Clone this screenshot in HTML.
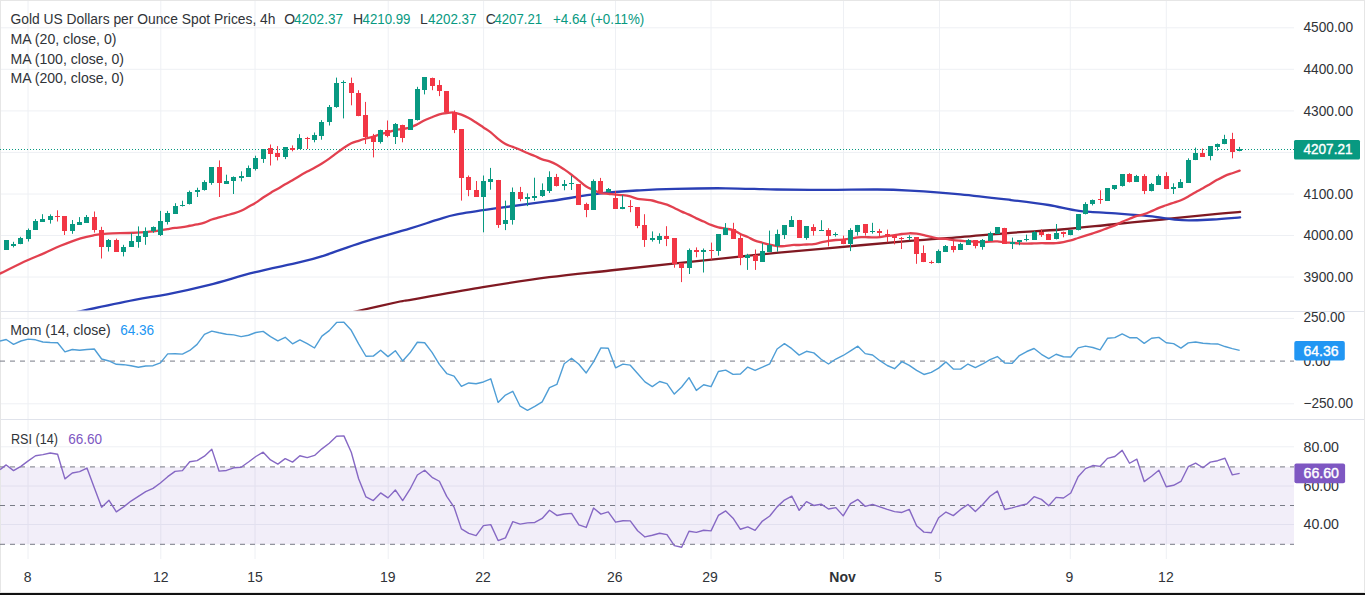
<!DOCTYPE html><html><head><meta charset="utf-8"><title>Gold 4h chart</title><style>
html,body{margin:0;padding:0;background:#fff;width:1365px;height:595px;overflow:hidden}
svg{display:block}
text{font-family:"Liberation Sans", sans-serif}
</style></head><body>
<svg width="1365" height="595" viewBox="0 0 1365 595">
<rect x="0" y="0" width="1365" height="595" fill="#ffffff"/>
<line x1="28.0" y1="0" x2="28.0" y2="559.0" stroke="#EEF0F4" stroke-width="1"/>
<line x1="160.8" y1="0" x2="160.8" y2="559.0" stroke="#EEF0F4" stroke-width="1"/>
<line x1="255.0" y1="0" x2="255.0" y2="559.0" stroke="#EEF0F4" stroke-width="1"/>
<line x1="388.2" y1="0" x2="388.2" y2="559.0" stroke="#EEF0F4" stroke-width="1"/>
<line x1="483.6" y1="0" x2="483.6" y2="559.0" stroke="#EEF0F4" stroke-width="1"/>
<line x1="615.5" y1="0" x2="615.5" y2="559.0" stroke="#EEF0F4" stroke-width="1"/>
<line x1="711.0" y1="0" x2="711.0" y2="559.0" stroke="#EEF0F4" stroke-width="1"/>
<line x1="843.5" y1="0" x2="843.5" y2="559.0" stroke="#EEF0F4" stroke-width="1"/>
<line x1="939.5" y1="0" x2="939.5" y2="559.0" stroke="#EEF0F4" stroke-width="1"/>
<line x1="1070.3" y1="0" x2="1070.3" y2="559.0" stroke="#EEF0F4" stroke-width="1"/>
<line x1="1166.3" y1="0" x2="1166.3" y2="559.0" stroke="#EEF0F4" stroke-width="1"/>
<line x1="0" y1="27.8" x2="1294" y2="27.8" stroke="#EEF0F4" stroke-width="1"/>
<line x1="0" y1="69.3" x2="1294" y2="69.3" stroke="#EEF0F4" stroke-width="1"/>
<line x1="0" y1="110.9" x2="1294" y2="110.9" stroke="#EEF0F4" stroke-width="1"/>
<line x1="0" y1="152.4" x2="1294" y2="152.4" stroke="#EEF0F4" stroke-width="1"/>
<line x1="0" y1="194.0" x2="1294" y2="194.0" stroke="#EEF0F4" stroke-width="1"/>
<line x1="0" y1="235.5" x2="1294" y2="235.5" stroke="#EEF0F4" stroke-width="1"/>
<line x1="0" y1="277.0" x2="1294" y2="277.0" stroke="#EEF0F4" stroke-width="1"/>
<line x1="0" y1="318.4" x2="1294" y2="318.4" stroke="#EEF0F4" stroke-width="1"/>
<line x1="0" y1="403.8" x2="1294" y2="403.8" stroke="#EEF0F4" stroke-width="1"/>
<line x1="0" y1="446.8" x2="1294" y2="446.8" stroke="#EEF0F4" stroke-width="1"/>
<line x1="0" y1="486.0" x2="1294" y2="486.0" stroke="#EEF0F4" stroke-width="1"/>
<line x1="0" y1="524.5" x2="1294" y2="524.5" stroke="#EEF0F4" stroke-width="1"/>
<rect x="0" y="466.9" width="1294" height="77.4" fill="#7E57C2" fill-opacity="0.1"/>
<line x1="0" y1="311.5" x2="1365" y2="311.5" stroke="#E0E3EB" stroke-width="1"/>
<line x1="0" y1="419.5" x2="1365" y2="419.5" stroke="#E0E3EB" stroke-width="1"/>
<rect x="0.5" y="0.5" width="1364" height="592" fill="none" stroke="#E6E6E6" stroke-width="1"/>
<rect x="0" y="593" width="1365" height="2" fill="#111"/>
<defs><clipPath id="cm"><rect x="0" y="0" width="1294" height="310.5"/></clipPath>
<clipPath id="cmo"><rect x="0" y="311.5" width="1294" height="108.0"/></clipPath>
<clipPath id="cr"><rect x="0" y="419.5" width="1294" height="139.5"/></clipPath></defs>
<line x1="0" y1="149.5" x2="1294" y2="149.5" stroke="#089981" stroke-width="1" stroke-dasharray="1,2"/>
<g clip-path="url(#cm)" fill="none" stroke-linejoin="round" stroke-linecap="round">
<path d="M340.00,315.50 C342.93,314.75 347.60,313.33 357.60,311.00 C367.60,308.67 390.93,303.40 400.00,301.50 C409.07,299.60 398.17,302.00 412.00,299.60 C425.83,297.20 460.15,290.83 483.00,287.10 C505.85,283.37 527.93,279.97 549.10,277.20 C570.27,274.43 588.92,272.80 610.00,270.50 C631.08,268.20 652.07,265.92 675.60,263.40 C699.13,260.88 725.98,257.92 751.20,255.40 C776.42,252.88 800.43,250.72 826.90,248.30 C853.37,245.88 887.75,242.77 910.00,240.90 C932.25,239.03 943.60,238.45 960.40,237.10 C977.20,235.75 994.00,234.07 1010.80,232.80 C1027.60,231.53 1044.40,230.88 1061.20,229.50 C1078.00,228.12 1094.80,226.17 1111.60,224.50 C1128.40,222.83 1145.20,221.18 1162.00,219.50 C1178.80,217.82 1199.38,215.67 1212.40,214.40 C1225.42,213.13 1235.48,212.32 1240.10,211.90" stroke="#801922" stroke-width="2.3"/>
<path d="M60.00,316.00 C63.53,315.17 68.75,313.70 81.20,311.00 C93.65,308.30 120.38,302.58 134.70,299.80 C149.02,297.02 154.65,296.80 167.10,294.30 C179.55,291.80 194.87,288.45 209.40,284.80 C223.93,281.15 239.20,276.17 254.30,272.40 C269.40,268.63 288.23,265.05 300.00,262.20 C311.77,259.35 314.52,258.62 324.90,255.30 C335.28,251.98 348.18,246.75 362.30,242.30 C376.42,237.85 397.15,232.33 409.60,228.60 C422.05,224.87 429.12,222.27 437.00,219.90 C444.88,217.53 446.52,216.40 456.90,214.40 C467.28,212.40 483.93,210.10 499.30,207.90 C514.67,205.70 532.50,203.57 549.10,201.20 C565.70,198.83 583.75,195.52 598.90,193.70 C614.05,191.88 627.22,191.12 640.00,190.30 C652.78,189.48 661.27,189.13 675.60,188.80 C689.93,188.47 709.18,188.18 726.00,188.30 C742.82,188.42 759.68,189.23 776.50,189.50 C793.32,189.77 810.10,189.90 826.90,189.90 C843.70,189.90 863.45,189.38 877.30,189.50 C891.15,189.62 896.15,189.80 910.00,190.60 C923.85,191.40 943.60,192.73 960.40,194.30 C977.20,195.87 996.10,198.22 1010.80,200.00 C1025.50,201.78 1037.25,203.20 1048.60,205.00 C1059.95,206.80 1068.40,209.43 1078.90,210.80 C1089.40,212.17 1099.85,212.30 1111.60,213.20 C1123.35,214.10 1137.63,215.03 1149.40,216.20 C1161.17,217.37 1171.70,219.65 1182.20,220.20 C1192.70,220.75 1202.75,219.97 1212.40,219.50 C1222.05,219.03 1235.48,217.75 1240.10,217.40" stroke="#2A3FB5" stroke-width="2.3"/>
<path d="M0.00,273.40 C0.33,273.27 -2.48,274.75 2.00,272.60 C6.48,270.45 19.83,263.75 26.90,260.50 C33.97,257.25 38.80,255.57 44.40,253.10 C50.00,250.63 54.47,248.17 60.50,245.70 C66.53,243.23 75.00,240.05 80.60,238.30 C86.20,236.55 89.62,235.98 94.10,235.20 C98.58,234.42 101.68,233.97 107.50,233.60 C113.32,233.23 122.63,233.25 129.00,233.00 C135.37,232.75 141.69,232.37 145.70,232.11 C149.70,231.85 150.59,231.76 153.04,231.47 C155.49,231.17 157.93,230.73 160.38,230.33 C162.83,229.94 165.28,229.51 167.72,229.11 C170.17,228.70 172.62,228.26 175.07,227.93 C177.51,227.59 179.96,227.49 182.41,227.12 C184.86,226.76 187.30,226.20 189.75,225.75 C192.20,225.30 194.64,224.94 197.09,224.43 C199.54,223.91 201.99,223.50 204.43,222.68 C206.88,221.86 209.33,220.37 211.78,219.49 C214.22,218.62 216.67,218.11 219.12,217.43 C221.57,216.75 224.01,216.07 226.46,215.40 C228.91,214.73 231.35,214.17 233.80,213.39 C236.25,212.61 238.70,211.80 241.14,210.69 C243.59,209.59 246.04,208.10 248.49,206.76 C250.93,205.41 253.38,204.19 255.83,202.65 C258.28,201.11 260.72,199.15 263.17,197.53 C265.62,195.90 268.06,194.36 270.51,192.89 C272.96,191.42 275.41,190.12 277.85,188.68 C280.30,187.24 282.75,185.66 285.20,184.25 C287.64,182.83 290.09,181.60 292.54,180.18 C294.99,178.75 297.43,177.13 299.88,175.70 C302.33,174.28 304.77,172.94 307.22,171.60 C309.67,170.27 312.12,169.05 314.56,167.69 C317.01,166.34 319.46,165.00 321.91,163.48 C324.35,161.96 326.80,160.31 329.25,158.59 C331.70,156.87 334.14,154.97 336.59,153.17 C339.04,151.36 341.48,149.41 343.93,147.77 C346.38,146.13 348.83,144.50 351.27,143.33 C353.72,142.17 356.17,141.59 358.62,140.79 C361.06,139.99 363.51,139.23 365.96,138.52 C368.41,137.81 370.85,137.27 373.30,136.55 C375.75,135.83 378.19,134.92 380.64,134.20 C383.09,133.48 385.54,132.90 387.98,132.20 C390.43,131.50 392.88,130.54 395.33,130.01 C397.77,129.48 400.22,129.41 402.67,129.00 C405.12,128.58 407.56,128.29 410.01,127.50 C412.46,126.71 414.90,125.47 417.35,124.27 C419.80,123.07 422.25,121.46 424.69,120.29 C427.14,119.12 429.59,118.22 432.04,117.22 C434.48,116.23 436.93,115.00 439.38,114.30 C441.83,113.60 444.27,113.30 446.72,113.00 C449.17,112.71 451.61,112.25 454.06,112.53 C456.51,112.81 458.96,113.73 461.40,114.66 C463.85,115.58 466.30,116.76 468.75,118.08 C471.19,119.40 473.64,121.00 476.09,122.56 C478.54,124.12 480.98,125.83 483.43,127.45 C485.88,129.08 488.32,130.43 490.77,132.33 C493.22,134.24 495.67,136.94 498.11,138.91 C500.56,140.87 503.01,142.78 505.46,144.11 C507.90,145.44 510.35,145.94 512.80,146.88 C515.25,147.81 517.69,148.70 520.14,149.73 C522.59,150.77 525.03,152.01 527.48,153.06 C529.93,154.12 532.38,155.01 534.82,156.06 C537.27,157.10 539.72,158.47 542.17,159.34 C544.61,160.22 547.06,160.41 549.51,161.30 C551.96,162.18 554.40,163.31 556.85,164.67 C559.30,166.02 561.74,167.73 564.19,169.41 C566.64,171.08 569.09,172.85 571.53,174.72 C573.98,176.59 576.43,178.67 578.88,180.65 C581.32,182.63 583.77,185.03 586.22,186.59 C588.67,188.16 591.11,188.95 593.56,190.05 C596.01,191.15 598.45,192.57 600.90,193.19 C603.35,193.81 605.80,193.51 608.24,193.75 C610.69,194.00 613.14,194.44 615.59,194.68 C618.03,194.91 620.48,194.86 622.93,195.16 C625.38,195.46 627.82,195.84 630.27,196.45 C632.72,197.06 635.16,198.28 637.61,198.80 C640.06,199.32 642.51,199.31 644.95,199.59 C647.40,199.88 649.85,199.99 652.30,200.50 C654.74,201.02 657.19,201.99 659.64,202.69 C662.09,203.39 664.53,203.79 666.98,204.68 C669.43,205.57 671.87,206.87 674.32,208.02 C676.77,209.17 679.22,210.50 681.66,211.59 C684.11,212.69 686.56,213.47 689.01,214.60 C691.45,215.73 693.90,217.23 696.35,218.39 C698.80,219.56 701.24,220.49 703.69,221.57 C706.14,222.66 708.58,223.94 711.03,224.93 C713.48,225.91 715.93,226.84 718.37,227.46 C720.82,228.08 723.27,228.21 725.72,228.66 C728.16,229.10 730.61,229.23 733.06,230.11 C735.51,230.99 737.95,232.78 740.40,233.94 C742.85,235.10 745.29,235.95 747.74,237.07 C750.19,238.19 752.64,239.72 755.08,240.68 C757.53,241.64 759.98,242.12 762.43,242.80 C764.87,243.48 767.32,244.19 769.77,244.74 C772.22,245.29 774.66,245.90 777.11,246.12 C779.56,246.34 782.00,246.24 784.45,246.06 C786.90,245.88 789.35,245.21 791.79,245.03 C794.24,244.85 796.69,245.09 799.14,245.00 C801.58,244.91 804.03,244.65 806.48,244.50 C808.93,244.35 811.37,244.46 813.82,244.12 C816.27,243.77 818.71,242.96 821.16,242.41 C823.61,241.86 826.06,241.21 828.50,240.81 C830.95,240.40 833.40,240.20 835.85,240.00 C838.29,239.80 840.74,239.82 843.19,239.58 C845.64,239.34 848.08,238.97 850.53,238.58 C852.98,238.20 855.42,237.50 857.87,237.27 C860.32,237.04 862.77,237.20 865.21,237.21 C867.66,237.22 870.11,237.34 872.56,237.31 C875.00,237.28 877.45,237.26 879.90,237.03 C882.35,236.80 884.79,236.26 887.24,235.94 C889.69,235.62 892.13,235.42 894.58,235.10 C897.03,234.78 899.48,234.30 901.92,234.00 C904.37,233.70 906.82,233.33 909.27,233.28 C911.71,233.22 914.16,233.39 916.61,233.69 C919.06,234.00 921.50,234.54 923.95,235.08 C926.40,235.63 928.84,236.39 931.29,236.97 C933.74,237.54 936.19,238.20 938.63,238.53 C941.08,238.85 943.53,238.67 945.98,238.93 C948.42,239.19 950.87,239.80 953.32,240.11 C955.77,240.41 958.21,240.57 960.66,240.77 C963.11,240.96 965.55,241.11 968.00,241.28 C970.45,241.46 972.90,241.68 975.34,241.82 C977.79,241.97 980.24,242.18 982.69,242.14 C985.13,242.10 987.58,241.69 990.03,241.56 C992.48,241.44 994.92,241.29 997.37,241.42 C999.82,241.55 1002.26,242.13 1004.71,242.36 C1007.16,242.59 1009.61,242.67 1012.05,242.82 C1014.50,242.98 1016.95,243.18 1019.40,243.31 C1021.84,243.44 1024.29,243.57 1026.74,243.58 C1029.19,243.60 1031.63,243.46 1034.08,243.40 C1036.53,243.34 1038.97,243.24 1041.42,243.22 C1043.87,243.19 1046.32,243.27 1048.76,243.25 C1051.21,243.23 1053.66,243.27 1056.11,243.07 C1058.55,242.88 1061.00,242.51 1063.45,242.07 C1065.90,241.64 1068.34,241.14 1070.79,240.47 C1073.24,239.80 1075.68,238.83 1078.13,238.03 C1080.58,237.24 1083.03,236.46 1085.47,235.68 C1087.92,234.89 1090.37,234.15 1092.82,233.35 C1095.26,232.55 1097.71,231.75 1100.16,230.87 C1102.61,229.98 1105.05,228.98 1107.50,228.06 C1109.95,227.14 1112.39,226.38 1114.84,225.32 C1117.29,224.26 1119.74,222.80 1122.18,221.71 C1124.63,220.62 1127.08,219.76 1129.53,218.79 C1131.97,217.83 1134.42,216.72 1136.87,215.94 C1139.32,215.16 1141.76,214.94 1144.21,214.14 C1146.66,213.35 1149.10,212.23 1151.55,211.18 C1154.00,210.12 1156.45,208.82 1158.89,207.84 C1161.34,206.86 1163.79,206.14 1166.24,205.28 C1168.68,204.43 1171.13,203.56 1173.58,202.72 C1176.03,201.87 1178.47,201.26 1180.92,200.22 C1183.37,199.19 1185.81,197.83 1188.26,196.48 C1190.71,195.13 1193.16,193.49 1195.60,192.13 C1198.05,190.77 1200.50,189.67 1202.95,188.31 C1205.39,186.94 1207.84,185.38 1210.29,183.93 C1212.74,182.47 1215.18,180.95 1217.63,179.60 C1220.08,178.25 1222.52,176.89 1224.97,175.83 C1227.42,174.77 1229.87,174.07 1232.31,173.22 C1234.76,172.36 1238.43,171.12 1239.66,170.70" stroke="#E2404F" stroke-width="2.3"/>
</g>
<g clip-path="url(#cm)">
<rect x="6" y="240.3" width="1" height="9.4" fill="#089981"/>
<rect x="4" y="240" width="5" height="10" fill="#089981"/>
<rect x="13" y="241.8" width="1" height="5.6" fill="#089981"/>
<rect x="11" y="244" width="5" height="2" fill="#089981"/>
<rect x="20" y="236.8" width="1" height="7.4" fill="#089981"/>
<rect x="18" y="238" width="5" height="6" fill="#089981"/>
<rect x="28" y="228.5" width="1" height="13.0" fill="#089981"/>
<rect x="26" y="230" width="5" height="9" fill="#089981"/>
<rect x="35" y="219.1" width="1" height="10.9" fill="#089981"/>
<rect x="33" y="221" width="5" height="9" fill="#089981"/>
<rect x="42" y="214.2" width="1" height="7.6" fill="#089981"/>
<rect x="40" y="219" width="5" height="3" fill="#089981"/>
<rect x="50" y="214.4" width="1" height="9.2" fill="#089981"/>
<rect x="48" y="216" width="5" height="4" fill="#089981"/>
<rect x="57" y="210.3" width="1" height="11.2" fill="#F23645"/>
<rect x="55" y="216" width="5" height="1" fill="#F23645"/>
<rect x="64" y="216.2" width="1" height="18.8" fill="#F23645"/>
<rect x="62" y="216" width="5" height="15" fill="#F23645"/>
<rect x="72" y="220.0" width="1" height="13.8" fill="#089981"/>
<rect x="70" y="224" width="5" height="7" fill="#089981"/>
<rect x="79" y="217.1" width="1" height="7.5" fill="#089981"/>
<rect x="77" y="222" width="5" height="3" fill="#089981"/>
<rect x="86" y="215.0" width="1" height="7.6" fill="#089981"/>
<rect x="84" y="217" width="5" height="6" fill="#089981"/>
<rect x="94" y="211.5" width="1" height="21.1" fill="#F23645"/>
<rect x="92" y="217" width="5" height="13" fill="#F23645"/>
<rect x="101" y="226.8" width="1" height="31.7" fill="#F23645"/>
<rect x="99" y="230" width="5" height="17" fill="#F23645"/>
<rect x="108" y="239.0" width="1" height="12.5" fill="#089981"/>
<rect x="106" y="240" width="5" height="7" fill="#089981"/>
<rect x="116" y="238.6" width="1" height="12.9" fill="#F23645"/>
<rect x="114" y="240" width="5" height="12" fill="#F23645"/>
<rect x="123" y="244.8" width="1" height="11.6" fill="#089981"/>
<rect x="121" y="247" width="5" height="5" fill="#089981"/>
<rect x="131" y="233.2" width="1" height="13.5" fill="#089981"/>
<rect x="129" y="241" width="5" height="6" fill="#089981"/>
<rect x="138" y="226.4" width="1" height="21.3" fill="#089981"/>
<rect x="136" y="236" width="5" height="6" fill="#089981"/>
<rect x="145" y="227.4" width="1" height="17.4" fill="#089981"/>
<rect x="143" y="231" width="5" height="6" fill="#089981"/>
<rect x="153" y="226.4" width="1" height="6.4" fill="#089981"/>
<rect x="151" y="227" width="5" height="4" fill="#089981"/>
<rect x="160" y="210.9" width="1" height="25.1" fill="#089981"/>
<rect x="158" y="221" width="5" height="14" fill="#089981"/>
<rect x="167" y="210.9" width="1" height="13.6" fill="#089981"/>
<rect x="165" y="213" width="5" height="9" fill="#089981"/>
<rect x="175" y="203.2" width="1" height="10.6" fill="#089981"/>
<rect x="173" y="206" width="5" height="8" fill="#089981"/>
<rect x="182" y="200.7" width="1" height="5.8" fill="#089981"/>
<rect x="180" y="205" width="5" height="1" fill="#089981"/>
<rect x="189" y="190.6" width="1" height="13.9" fill="#089981"/>
<rect x="187" y="192" width="5" height="12" fill="#089981"/>
<rect x="197" y="187.7" width="1" height="9.3" fill="#089981"/>
<rect x="195" y="190" width="5" height="2" fill="#089981"/>
<rect x="204" y="180.3" width="1" height="10.3" fill="#089981"/>
<rect x="202" y="182" width="5" height="8" fill="#089981"/>
<rect x="211" y="167.1" width="1" height="17.7" fill="#089981"/>
<rect x="209" y="167" width="5" height="16" fill="#089981"/>
<rect x="219" y="160.4" width="1" height="36.6" fill="#F23645"/>
<rect x="217" y="167" width="5" height="16" fill="#F23645"/>
<rect x="226" y="174.7" width="1" height="8.9" fill="#089981"/>
<rect x="224" y="181" width="5" height="3" fill="#089981"/>
<rect x="233" y="176.4" width="1" height="17.6" fill="#089981"/>
<rect x="231" y="177" width="5" height="4" fill="#089981"/>
<rect x="241" y="171.3" width="1" height="10.1" fill="#089981"/>
<rect x="239" y="176" width="5" height="2" fill="#089981"/>
<rect x="248" y="165.5" width="1" height="11.4" fill="#089981"/>
<rect x="246" y="168" width="5" height="9" fill="#089981"/>
<rect x="255" y="155.7" width="1" height="14.8" fill="#089981"/>
<rect x="253" y="158" width="5" height="11" fill="#089981"/>
<rect x="263" y="149.0" width="1" height="13.9" fill="#089981"/>
<rect x="261" y="149" width="5" height="10" fill="#089981"/>
<rect x="270" y="144.5" width="1" height="21.0" fill="#F23645"/>
<rect x="268" y="148" width="5" height="6" fill="#F23645"/>
<rect x="277" y="146.1" width="1" height="14.3" fill="#F23645"/>
<rect x="275" y="153" width="5" height="4" fill="#F23645"/>
<rect x="285" y="147.3" width="1" height="11.8" fill="#089981"/>
<rect x="283" y="147" width="5" height="10" fill="#089981"/>
<rect x="292" y="145.4" width="1" height="5.9" fill="#F23645"/>
<rect x="290" y="148" width="5" height="2" fill="#F23645"/>
<rect x="299" y="134.2" width="1" height="14.8" fill="#089981"/>
<rect x="297" y="138" width="5" height="11" fill="#089981"/>
<rect x="307" y="136.9" width="1" height="12.1" fill="#F23645"/>
<rect x="305" y="138" width="5" height="1" fill="#F23645"/>
<rect x="314" y="132.5" width="1" height="9.8" fill="#089981"/>
<rect x="312" y="135" width="5" height="5" fill="#089981"/>
<rect x="321" y="120.1" width="1" height="19.6" fill="#089981"/>
<rect x="319" y="122" width="5" height="14" fill="#089981"/>
<rect x="329" y="105.0" width="1" height="20.5" fill="#089981"/>
<rect x="327" y="107" width="5" height="15" fill="#089981"/>
<rect x="336" y="77.6" width="1" height="30.2" fill="#089981"/>
<rect x="334" y="83" width="5" height="24" fill="#089981"/>
<rect x="343" y="80.4" width="1" height="38.0" fill="#089981"/>
<rect x="341" y="82" width="5" height="1" fill="#089981"/>
<rect x="351" y="77.6" width="1" height="27.7" fill="#F23645"/>
<rect x="349" y="83" width="5" height="10" fill="#F23645"/>
<rect x="358" y="90.2" width="1" height="26.0" fill="#F23645"/>
<rect x="356" y="93" width="5" height="23" fill="#F23645"/>
<rect x="365" y="101.9" width="1" height="42.1" fill="#F23645"/>
<rect x="363" y="115" width="5" height="22" fill="#F23645"/>
<rect x="373" y="133.9" width="1" height="23.5" fill="#F23645"/>
<rect x="371" y="136" width="5" height="6" fill="#F23645"/>
<rect x="380" y="129.7" width="1" height="13.9" fill="#089981"/>
<rect x="378" y="130" width="5" height="12" fill="#089981"/>
<rect x="387" y="120.5" width="1" height="16.8" fill="#F23645"/>
<rect x="385" y="130" width="5" height="6" fill="#F23645"/>
<rect x="395" y="123.0" width="1" height="21.0" fill="#089981"/>
<rect x="393" y="124" width="5" height="13" fill="#089981"/>
<rect x="402" y="124.7" width="1" height="17.6" fill="#F23645"/>
<rect x="400" y="125" width="5" height="13" fill="#F23645"/>
<rect x="410" y="119.1" width="1" height="10.6" fill="#089981"/>
<rect x="408" y="119" width="5" height="11" fill="#089981"/>
<rect x="417" y="86.8" width="1" height="33.7" fill="#089981"/>
<rect x="415" y="89" width="5" height="31" fill="#089981"/>
<rect x="424" y="77.1" width="1" height="17.3" fill="#089981"/>
<rect x="422" y="77" width="5" height="13" fill="#089981"/>
<rect x="432" y="77.6" width="1" height="12.6" fill="#F23645"/>
<rect x="430" y="78" width="5" height="8" fill="#F23645"/>
<rect x="439" y="80.1" width="1" height="16.0" fill="#F23645"/>
<rect x="437" y="85" width="5" height="6" fill="#F23645"/>
<rect x="446" y="91.0" width="1" height="21.1" fill="#F23645"/>
<rect x="444" y="91" width="5" height="21" fill="#F23645"/>
<rect x="454" y="110.4" width="1" height="22.7" fill="#F23645"/>
<rect x="452" y="112" width="5" height="18" fill="#F23645"/>
<rect x="461" y="129.2" width="1" height="71.4" fill="#F23645"/>
<rect x="459" y="129" width="5" height="49" fill="#F23645"/>
<rect x="468" y="175.5" width="1" height="20.7" fill="#F23645"/>
<rect x="466" y="177" width="5" height="13" fill="#F23645"/>
<rect x="476" y="181.0" width="1" height="15.9" fill="#F23645"/>
<rect x="474" y="190" width="5" height="7" fill="#F23645"/>
<rect x="483" y="175.5" width="1" height="56.8" fill="#089981"/>
<rect x="481" y="181" width="5" height="16" fill="#089981"/>
<rect x="490" y="167.9" width="1" height="21.8" fill="#089981"/>
<rect x="488" y="179" width="5" height="3" fill="#089981"/>
<rect x="498" y="179.9" width="1" height="48.0" fill="#F23645"/>
<rect x="496" y="180" width="5" height="45" fill="#F23645"/>
<rect x="505" y="200.6" width="1" height="29.5" fill="#089981"/>
<rect x="503" y="220" width="5" height="4" fill="#089981"/>
<rect x="512" y="187.5" width="1" height="37.1" fill="#089981"/>
<rect x="510" y="192" width="5" height="28" fill="#089981"/>
<rect x="520" y="186.9" width="1" height="14.4" fill="#F23645"/>
<rect x="518" y="192" width="5" height="7" fill="#F23645"/>
<rect x="527" y="193.4" width="1" height="12.7" fill="#089981"/>
<rect x="525" y="197" width="5" height="2" fill="#089981"/>
<rect x="534" y="177.7" width="1" height="22.9" fill="#089981"/>
<rect x="532" y="196" width="5" height="2" fill="#089981"/>
<rect x="542" y="183.4" width="1" height="13.5" fill="#089981"/>
<rect x="540" y="190" width="5" height="6" fill="#089981"/>
<rect x="549" y="171.3" width="1" height="21.7" fill="#089981"/>
<rect x="547" y="177" width="5" height="14" fill="#089981"/>
<rect x="556" y="173.9" width="1" height="12.6" fill="#F23645"/>
<rect x="554" y="177" width="5" height="9" fill="#F23645"/>
<rect x="564" y="180.0" width="1" height="10.3" fill="#089981"/>
<rect x="562" y="184" width="5" height="2" fill="#089981"/>
<rect x="571" y="175.9" width="1" height="14.1" fill="#089981"/>
<rect x="569" y="183" width="5" height="1" fill="#089981"/>
<rect x="578" y="184.2" width="1" height="20.4" fill="#F23645"/>
<rect x="576" y="184" width="5" height="21" fill="#F23645"/>
<rect x="586" y="202.7" width="1" height="14.5" fill="#F23645"/>
<rect x="584" y="204" width="5" height="6" fill="#F23645"/>
<rect x="593" y="179.4" width="1" height="30.5" fill="#089981"/>
<rect x="591" y="181" width="5" height="29" fill="#089981"/>
<rect x="600" y="177.9" width="1" height="14.6" fill="#F23645"/>
<rect x="598" y="181" width="5" height="11" fill="#F23645"/>
<rect x="608" y="188.0" width="1" height="4.5" fill="#089981"/>
<rect x="606" y="189" width="5" height="3" fill="#089981"/>
<rect x="615" y="191.0" width="1" height="17.7" fill="#F23645"/>
<rect x="613" y="198" width="5" height="11" fill="#F23645"/>
<rect x="622" y="195.1" width="1" height="14.1" fill="#089981"/>
<rect x="620" y="207" width="5" height="2" fill="#089981"/>
<rect x="630" y="200.1" width="1" height="12.1" fill="#F23645"/>
<rect x="628" y="206" width="5" height="1" fill="#F23645"/>
<rect x="637" y="207.0" width="1" height="21.2" fill="#F23645"/>
<rect x="635" y="207" width="5" height="19" fill="#F23645"/>
<rect x="644" y="214.2" width="1" height="32.7" fill="#F23645"/>
<rect x="642" y="225" width="5" height="15" fill="#F23645"/>
<rect x="652" y="231.4" width="1" height="10.2" fill="#089981"/>
<rect x="650" y="238" width="5" height="2" fill="#089981"/>
<rect x="659" y="233.3" width="1" height="10.4" fill="#089981"/>
<rect x="657" y="236" width="5" height="4" fill="#089981"/>
<rect x="666" y="226.2" width="1" height="19.9" fill="#F23645"/>
<rect x="664" y="236" width="5" height="3" fill="#F23645"/>
<rect x="674" y="238.1" width="1" height="29.6" fill="#F23645"/>
<rect x="672" y="238" width="5" height="26" fill="#F23645"/>
<rect x="681" y="263.4" width="1" height="18.7" fill="#F23645"/>
<rect x="679" y="263" width="5" height="5" fill="#F23645"/>
<rect x="689" y="248.5" width="1" height="25.5" fill="#089981"/>
<rect x="687" y="250" width="5" height="18" fill="#089981"/>
<rect x="696" y="247.4" width="1" height="9.9" fill="#F23645"/>
<rect x="694" y="250" width="5" height="2" fill="#F23645"/>
<rect x="703" y="248.5" width="1" height="24.0" fill="#089981"/>
<rect x="701" y="250" width="5" height="2" fill="#089981"/>
<rect x="711" y="242.6" width="1" height="17.1" fill="#F23645"/>
<rect x="709" y="250" width="5" height="1" fill="#F23645"/>
<rect x="718" y="234.1" width="1" height="21.6" fill="#089981"/>
<rect x="716" y="234" width="5" height="17" fill="#089981"/>
<rect x="725" y="223.1" width="1" height="11.6" fill="#089981"/>
<rect x="723" y="228" width="5" height="7" fill="#089981"/>
<rect x="733" y="222.8" width="1" height="16.2" fill="#F23645"/>
<rect x="731" y="229" width="5" height="10" fill="#F23645"/>
<rect x="740" y="234.3" width="1" height="30.9" fill="#F23645"/>
<rect x="738" y="238" width="5" height="20" fill="#F23645"/>
<rect x="747" y="253.8" width="1" height="16.1" fill="#089981"/>
<rect x="745" y="255" width="5" height="3" fill="#089981"/>
<rect x="755" y="249.5" width="1" height="20.4" fill="#F23645"/>
<rect x="753" y="255" width="5" height="6" fill="#F23645"/>
<rect x="762" y="243.0" width="1" height="18.6" fill="#089981"/>
<rect x="760" y="251" width="5" height="11" fill="#089981"/>
<rect x="769" y="230.6" width="1" height="21.1" fill="#089981"/>
<rect x="767" y="245" width="5" height="7" fill="#089981"/>
<rect x="777" y="229.6" width="1" height="22.1" fill="#089981"/>
<rect x="775" y="234" width="5" height="12" fill="#089981"/>
<rect x="784" y="225.3" width="1" height="13.7" fill="#089981"/>
<rect x="782" y="225" width="5" height="10" fill="#089981"/>
<rect x="791" y="216.1" width="1" height="10.8" fill="#089981"/>
<rect x="789" y="220" width="5" height="7" fill="#089981"/>
<rect x="799" y="219.9" width="1" height="18.0" fill="#F23645"/>
<rect x="797" y="220" width="5" height="18" fill="#F23645"/>
<rect x="806" y="226.2" width="1" height="13.5" fill="#089981"/>
<rect x="804" y="226" width="5" height="12" fill="#089981"/>
<rect x="813" y="224.2" width="1" height="11.4" fill="#F23645"/>
<rect x="811" y="227" width="5" height="4" fill="#F23645"/>
<rect x="821" y="220.2" width="1" height="10.7" fill="#089981"/>
<rect x="819" y="230" width="5" height="1" fill="#089981"/>
<rect x="828" y="228.2" width="1" height="18.2" fill="#F23645"/>
<rect x="826" y="230" width="5" height="6" fill="#F23645"/>
<rect x="835" y="232.3" width="1" height="4.3" fill="#089981"/>
<rect x="833" y="234" width="5" height="1" fill="#089981"/>
<rect x="843" y="235.6" width="1" height="8.5" fill="#F23645"/>
<rect x="841" y="239" width="5" height="5" fill="#F23645"/>
<rect x="850" y="228.2" width="1" height="22.9" fill="#089981"/>
<rect x="848" y="230" width="5" height="14" fill="#089981"/>
<rect x="857" y="224.9" width="1" height="10.7" fill="#089981"/>
<rect x="855" y="225" width="5" height="7" fill="#089981"/>
<rect x="865" y="224.2" width="1" height="11.4" fill="#F23645"/>
<rect x="863" y="224" width="5" height="9" fill="#F23645"/>
<rect x="872" y="222.8" width="1" height="10.8" fill="#089981"/>
<rect x="870" y="231" width="5" height="1" fill="#089981"/>
<rect x="879" y="228.9" width="1" height="7.4" fill="#F23645"/>
<rect x="877" y="231" width="5" height="2" fill="#F23645"/>
<rect x="887" y="229.6" width="1" height="12.7" fill="#F23645"/>
<rect x="885" y="234" width="5" height="2" fill="#F23645"/>
<rect x="894" y="235.2" width="1" height="9.2" fill="#F23645"/>
<rect x="892" y="235" width="5" height="3" fill="#F23645"/>
<rect x="901" y="237.0" width="1" height="12.0" fill="#F23645"/>
<rect x="899" y="238" width="5" height="1" fill="#F23645"/>
<rect x="909" y="235.2" width="1" height="5.1" fill="#089981"/>
<rect x="907" y="237" width="5" height="1" fill="#089981"/>
<rect x="916" y="237.0" width="1" height="26.8" fill="#F23645"/>
<rect x="914" y="237" width="5" height="17" fill="#F23645"/>
<rect x="923" y="245.4" width="1" height="16.7" fill="#F23645"/>
<rect x="921" y="253" width="5" height="9" fill="#F23645"/>
<rect x="931" y="260.5" width="1" height="3.3" fill="#F23645"/>
<rect x="929" y="262" width="5" height="1" fill="#F23645"/>
<rect x="938" y="249.5" width="1" height="13.7" fill="#089981"/>
<rect x="936" y="251" width="5" height="12" fill="#089981"/>
<rect x="945" y="245.0" width="1" height="6.7" fill="#089981"/>
<rect x="943" y="246" width="5" height="6" fill="#089981"/>
<rect x="953" y="241.0" width="1" height="11.4" fill="#F23645"/>
<rect x="951" y="246" width="5" height="4" fill="#F23645"/>
<rect x="960" y="242.7" width="1" height="7.3" fill="#089981"/>
<rect x="958" y="244" width="5" height="6" fill="#089981"/>
<rect x="968" y="239.0" width="1" height="6.0" fill="#089981"/>
<rect x="966" y="240" width="5" height="5" fill="#089981"/>
<rect x="975" y="240.3" width="1" height="8.1" fill="#F23645"/>
<rect x="973" y="240" width="5" height="6" fill="#F23645"/>
<rect x="982" y="239.0" width="1" height="10.7" fill="#089981"/>
<rect x="980" y="240" width="5" height="7" fill="#089981"/>
<rect x="990" y="231.6" width="1" height="9.2" fill="#089981"/>
<rect x="988" y="233" width="5" height="8" fill="#089981"/>
<rect x="997" y="227.3" width="1" height="6.7" fill="#089981"/>
<rect x="995" y="227" width="5" height="7" fill="#089981"/>
<rect x="1004" y="227.8" width="1" height="15.9" fill="#F23645"/>
<rect x="1002" y="228" width="5" height="16" fill="#F23645"/>
<rect x="1012" y="237.6" width="1" height="11.4" fill="#089981"/>
<rect x="1010" y="242" width="5" height="2" fill="#089981"/>
<rect x="1019" y="240.3" width="1" height="4.9" fill="#089981"/>
<rect x="1017" y="240" width="5" height="2" fill="#089981"/>
<rect x="1026" y="234.6" width="1" height="6.8" fill="#089981"/>
<rect x="1024" y="239" width="5" height="1" fill="#089981"/>
<rect x="1034" y="230.8" width="1" height="9.1" fill="#089981"/>
<rect x="1032" y="232" width="5" height="8" fill="#089981"/>
<rect x="1041" y="229.3" width="1" height="7.6" fill="#F23645"/>
<rect x="1039" y="232" width="5" height="3" fill="#F23645"/>
<rect x="1048" y="233.8" width="1" height="6.1" fill="#F23645"/>
<rect x="1046" y="234" width="5" height="6" fill="#F23645"/>
<rect x="1056" y="224.0" width="1" height="15.4" fill="#089981"/>
<rect x="1054" y="233" width="5" height="6" fill="#089981"/>
<rect x="1063" y="231.6" width="1" height="5.7" fill="#F23645"/>
<rect x="1061" y="232" width="5" height="2" fill="#F23645"/>
<rect x="1070" y="230.0" width="1" height="5.3" fill="#089981"/>
<rect x="1068" y="230" width="5" height="5" fill="#089981"/>
<rect x="1078" y="214.2" width="1" height="16.2" fill="#089981"/>
<rect x="1076" y="214" width="5" height="16" fill="#089981"/>
<rect x="1085" y="202.2" width="1" height="12.2" fill="#089981"/>
<rect x="1083" y="204" width="5" height="10" fill="#089981"/>
<rect x="1092" y="199.5" width="1" height="5.9" fill="#089981"/>
<rect x="1090" y="200" width="5" height="4" fill="#089981"/>
<rect x="1100" y="190.3" width="1" height="13.5" fill="#F23645"/>
<rect x="1098" y="199" width="5" height="1" fill="#F23645"/>
<rect x="1107" y="188.3" width="1" height="12.5" fill="#089981"/>
<rect x="1105" y="188" width="5" height="13" fill="#089981"/>
<rect x="1114" y="185.2" width="1" height="4.8" fill="#089981"/>
<rect x="1112" y="185" width="5" height="4" fill="#089981"/>
<rect x="1122" y="174.2" width="1" height="12.4" fill="#089981"/>
<rect x="1120" y="174" width="5" height="12" fill="#089981"/>
<rect x="1129" y="173.1" width="1" height="9.4" fill="#F23645"/>
<rect x="1127" y="174" width="5" height="8" fill="#F23645"/>
<rect x="1136" y="174.9" width="1" height="6.7" fill="#089981"/>
<rect x="1134" y="176" width="5" height="6" fill="#089981"/>
<rect x="1144" y="174.2" width="1" height="19.9" fill="#F23645"/>
<rect x="1142" y="176" width="5" height="15" fill="#F23645"/>
<rect x="1151" y="182.9" width="1" height="8.5" fill="#089981"/>
<rect x="1149" y="184" width="5" height="7" fill="#089981"/>
<rect x="1158" y="174.5" width="1" height="10.2" fill="#089981"/>
<rect x="1156" y="176" width="5" height="9" fill="#089981"/>
<rect x="1166" y="172.2" width="1" height="17.0" fill="#F23645"/>
<rect x="1164" y="176" width="5" height="13" fill="#F23645"/>
<rect x="1173" y="183.3" width="1" height="10.7" fill="#089981"/>
<rect x="1171" y="187" width="5" height="2" fill="#089981"/>
<rect x="1180" y="179.1" width="1" height="8.8" fill="#089981"/>
<rect x="1178" y="182" width="5" height="6" fill="#089981"/>
<rect x="1188" y="158.3" width="1" height="24.6" fill="#089981"/>
<rect x="1186" y="160" width="5" height="23" fill="#089981"/>
<rect x="1195" y="147.6" width="1" height="12.5" fill="#089981"/>
<rect x="1193" y="153" width="5" height="7" fill="#089981"/>
<rect x="1202" y="148.5" width="1" height="8.1" fill="#F23645"/>
<rect x="1200" y="153" width="5" height="4" fill="#F23645"/>
<rect x="1210" y="146.2" width="1" height="14.1" fill="#089981"/>
<rect x="1208" y="146" width="5" height="10" fill="#089981"/>
<rect x="1217" y="143.5" width="1" height="7.1" fill="#089981"/>
<rect x="1215" y="144" width="5" height="3" fill="#089981"/>
<rect x="1224" y="134.8" width="1" height="9.4" fill="#089981"/>
<rect x="1222" y="139" width="5" height="5" fill="#089981"/>
<rect x="1232" y="132.8" width="1" height="25.5" fill="#F23645"/>
<rect x="1230" y="139" width="5" height="13" fill="#F23645"/>
<rect x="1239" y="146.9" width="1" height="4.4" fill="#089981"/>
<rect x="1237" y="149" width="5" height="2" fill="#089981"/>
</g>
<line x1="0" y1="361.1" x2="1294" y2="361.1" stroke="#787B86" stroke-width="1" stroke-dasharray="5,5"/>
<g clip-path="url(#cmo)"><path d="M0.00,341.00 L6.20,339.50 L13.54,344.30 L20.88,341.00 L28.23,339.10 L35.57,339.80 L42.91,342.00 L50.25,342.50 L57.59,342.70 L64.94,351.90 L72.28,349.50 L79.62,350.20 L86.96,349.50 L94.30,349.00 L101.65,359.00 L108.99,360.98 L116.33,364.27 L123.67,364.68 L131.01,365.71 L138.36,367.23 L145.70,365.95 L153.04,365.71 L160.38,362.91 L167.72,353.90 L175.07,353.82 L182.41,354.15 L189.75,350.49 L197.09,344.41 L204.43,334.41 L211.78,331.12 L219.12,332.77 L226.46,334.25 L233.80,334.91 L241.14,336.59 L248.49,335.24 L255.83,332.52 L263.17,331.41 L270.51,336.67 L277.85,340.79 L285.20,337.33 L292.54,343.79 L299.88,339.84 L307.22,343.54 L314.56,347.98 L321.91,336.10 L329.25,330.63 L336.59,322.41 L343.93,322.20 L351.27,330.34 L358.62,343.95 L365.96,356.25 L373.30,356.12 L380.64,350.24 L387.98,356.62 L395.33,350.70 L402.67,360.94 L410.01,352.83 L417.35,342.27 L424.69,342.72 L432.04,352.34 L439.38,364.35 L446.72,373.56 L454.06,376.11 L461.40,386.39 L468.75,382.93 L476.09,383.72 L483.43,381.95 L490.77,378.78 L498.11,402.38 L505.46,395.11 L512.80,391.28 L520.14,406.21 L527.48,410.36 L534.82,406.41 L542.17,401.81 L549.51,387.62 L556.85,384.46 L564.19,363.77 L571.53,358.26 L578.88,364.27 L586.22,372.98 L593.56,361.84 L600.90,347.90 L608.24,348.23 L615.59,367.76 L622.93,364.18 L630.27,365.17 L637.61,373.52 L644.95,381.87 L652.30,386.55 L659.64,381.54 L666.98,383.59 L674.32,394.12 L681.66,387.05 L689.01,377.63 L696.35,390.42 L703.69,384.79 L711.03,386.68 L718.37,371.54 L725.72,370.11 L733.06,374.34 L740.40,374.01 L747.74,367.10 L755.08,370.43 L762.43,367.23 L769.77,363.77 L777.11,349.01 L784.45,343.67 L791.79,348.68 L799.14,355.10 L806.48,351.27 L813.82,352.88 L821.16,359.25 L828.50,364.02 L835.85,359.04 L843.19,355.47 L850.53,350.86 L857.87,346.17 L865.21,353.62 L872.56,355.01 L879.90,360.69 L887.24,365.50 L894.58,368.67 L901.92,361.63 L909.27,365.38 L916.61,370.39 L923.95,374.46 L931.29,372.33 L938.63,368.13 L945.98,361.88 L953.32,369.12 L960.66,369.12 L968.00,364.02 L975.34,367.60 L982.69,363.98 L990.03,359.70 L997.37,356.58 L1004.71,362.95 L1012.05,363.40 L1019.40,355.55 L1026.74,351.52 L1034.08,348.52 L1041.42,354.32 L1048.76,358.59 L1056.11,354.27 L1063.45,356.74 L1070.79,356.99 L1078.13,347.86 L1085.47,346.13 L1092.82,347.49 L1100.16,349.87 L1107.50,338.32 L1114.84,337.66 L1122.18,333.92 L1129.53,337.74 L1136.87,337.74 L1144.21,343.34 L1151.55,338.24 L1158.89,337.41 L1166.24,342.76 L1173.58,343.58 L1180.92,348.06 L1188.26,342.92 L1195.60,341.94 L1202.95,343.25 L1210.29,343.79 L1217.63,343.95 L1224.97,346.54 L1232.31,348.60 L1239.66,350.33" fill="none" stroke="#4F9ED6" stroke-width="1.4" stroke-linejoin="round"/></g>
<line x1="0" y1="466.9" x2="1294" y2="466.9" stroke="#787B86" stroke-width="1" stroke-dasharray="5,5"/>
<line x1="0" y1="505.5" x2="1294" y2="505.5" stroke="#787B86" stroke-width="1" stroke-dasharray="5,5"/>
<line x1="0" y1="544.3" x2="1294" y2="544.3" stroke="#787B86" stroke-width="1" stroke-dasharray="5,5"/>
<g clip-path="url(#cr)"><path d="M0.00,469.60 L6.20,464.93 L13.54,470.64 L20.88,466.36 L28.23,460.82 L35.57,455.76 L42.91,454.65 L50.25,453.01 L57.59,454.19 L64.94,478.85 L72.28,473.04 L79.62,471.62 L86.96,468.01 L94.30,487.84 L101.65,507.18 L108.99,500.31 L116.33,511.80 L123.67,506.83 L131.01,501.04 L138.36,496.33 L145.70,491.60 L153.04,488.41 L160.38,482.97 L167.72,476.68 L175.07,471.34 L182.41,470.62 L189.75,461.78 L197.09,460.65 L204.43,456.21 L211.78,449.13 L219.12,471.17 L226.46,470.43 L233.80,467.79 L241.14,467.28 L248.49,462.03 L255.83,456.50 L263.17,452.21 L270.51,459.94 L277.85,464.08 L285.20,458.64 L292.54,462.11 L299.88,455.72 L307.22,457.67 L314.56,455.44 L321.91,448.85 L329.25,443.19 L336.59,436.22 L343.93,435.90 L351.27,452.29 L358.62,478.73 L365.96,496.98 L373.30,500.60 L380.64,492.91 L387.98,497.86 L395.33,489.94 L402.67,500.62 L410.01,489.24 L417.35,475.04 L424.69,470.21 L432.04,477.31 L439.38,481.25 L446.72,496.40 L454.06,507.11 L461.40,528.90 L468.75,533.36 L476.09,535.65 L483.43,525.59 L490.77,524.60 L498.11,540.57 L505.46,537.85 L512.80,521.63 L520.14,524.14 L527.48,522.86 L534.82,522.43 L542.17,518.48 L549.51,510.28 L556.85,515.44 L564.19,513.96 L571.53,513.42 L578.88,524.83 L586.22,527.42 L593.56,508.06 L600.90,514.15 L608.24,511.93 L615.59,522.18 L622.93,520.72 L630.27,520.83 L637.61,530.77 L644.95,536.94 L652.30,535.27 L659.64,533.26 L666.98,534.62 L674.32,545.64 L681.66,547.20 L689.01,531.23 L696.35,532.41 L703.69,530.23 L711.03,530.85 L718.37,515.45 L725.72,510.90 L733.06,518.14 L740.40,529.28 L747.74,526.86 L755.08,530.37 L762.43,521.05 L769.77,516.04 L777.11,506.88 L784.45,500.07 L791.79,496.15 L799.14,510.32 L806.48,501.63 L813.82,505.44 L821.16,504.20 L828.50,509.04 L835.85,507.64 L843.19,515.86 L850.53,503.64 L857.87,499.40 L865.21,506.37 L872.56,504.36 L879.90,506.84 L887.24,509.38 L894.58,511.58 L901.92,512.48 L909.27,509.38 L916.61,525.71 L923.95,532.12 L931.29,532.72 L938.63,517.80 L945.98,512.01 L953.32,515.60 L960.66,509.42 L968.00,504.47 L975.34,511.46 L982.69,504.44 L990.03,496.30 L997.37,491.11 L1004.71,509.45 L1012.05,507.84 L1019.40,505.72 L1026.74,503.99 L1034.08,496.68 L1041.42,499.39 L1048.76,505.83 L1056.11,497.35 L1063.45,497.97 L1070.79,493.04 L1078.13,476.78 L1085.47,468.63 L1092.82,465.52 L1100.16,466.34 L1107.50,458.38 L1114.84,456.48 L1122.18,450.35 L1129.53,463.24 L1136.87,459.19 L1144.21,481.58 L1151.55,476.27 L1158.89,470.26 L1166.24,486.72 L1173.58,485.31 L1180.92,481.46 L1188.26,466.72 L1195.60,463.14 L1202.95,467.77 L1210.29,462.11 L1217.63,460.71 L1224.97,458.27 L1232.31,474.90 L1239.66,473.39" fill="none" stroke="#8668C4" stroke-width="1.4" stroke-linejoin="round"/></g>
<text x="1303.5" y="32.4" font-size="14" fill="#303338" textLength="49.5" lengthAdjust="spacingAndGlyphs">4500.00</text>
<text x="1303.5" y="73.9" font-size="14" fill="#303338" textLength="49.5" lengthAdjust="spacingAndGlyphs">4400.00</text>
<text x="1303.5" y="115.5" font-size="14" fill="#303338" textLength="49.5" lengthAdjust="spacingAndGlyphs">4300.00</text>
<text x="1303.5" y="198.6" font-size="14" fill="#303338" textLength="49.5" lengthAdjust="spacingAndGlyphs">4100.00</text>
<text x="1303.5" y="240.1" font-size="14" fill="#303338" textLength="49.5" lengthAdjust="spacingAndGlyphs">4000.00</text>
<text x="1303.5" y="281.6" font-size="14" fill="#303338" textLength="49.5" lengthAdjust="spacingAndGlyphs">3900.00</text>
<text x="1303.5" y="322.3" font-size="14" fill="#303338" textLength="41.5" lengthAdjust="spacingAndGlyphs">250.00</text>
<text x="1303.5" y="365.9" font-size="14" fill="#303338" textLength="27.0" lengthAdjust="spacingAndGlyphs">0.00</text>
<text x="1303.5" y="407.5" font-size="14" fill="#303338" textLength="49.5" lengthAdjust="spacingAndGlyphs">−250.00</text>
<text x="1303.5" y="451.9" font-size="14" fill="#303338" textLength="35.5" lengthAdjust="spacingAndGlyphs">80.00</text>
<text x="1303.5" y="490.8" font-size="14" fill="#303338" textLength="35.5" lengthAdjust="spacingAndGlyphs">60.00</text>
<text x="1303.5" y="529.0" font-size="14" fill="#303338" textLength="35.5" lengthAdjust="spacingAndGlyphs">40.00</text>
<rect x="1294" y="140" width="66" height="19.5" rx="1.5" fill="#089981"/>
<text x="1303.5" y="154.3" font-size="14.5" fill="#fff" stroke="#fff" stroke-width="0.4" textLength="49" lengthAdjust="spacingAndGlyphs">4207.21</text>
<rect x="1294.3" y="341" width="50.5" height="19.5" rx="2" fill="#2196F3"/>
<text x="1303.5" y="355.8" font-size="14.5" fill="#fff" stroke="#fff" stroke-width="0.4" textLength="35" lengthAdjust="spacingAndGlyphs">64.36</text>
<rect x="1294.4" y="463.5" width="50.7" height="19.8" rx="2" fill="#7E57C2"/>
<text x="1303.5" y="478.3" font-size="14.5" fill="#fff" stroke="#fff" stroke-width="0.4" textLength="35.5" lengthAdjust="spacingAndGlyphs">66.60</text>
<text x="27.7" y="581.6" font-size="14" fill="#303338" text-anchor="middle">8</text>
<text x="160.8" y="581.6" font-size="14" fill="#303338" text-anchor="middle">12</text>
<text x="255.0" y="581.6" font-size="14" fill="#303338" text-anchor="middle">15</text>
<text x="387.7" y="581.6" font-size="14" fill="#303338" text-anchor="middle">19</text>
<text x="483.0" y="581.6" font-size="14" fill="#303338" text-anchor="middle">22</text>
<text x="614.8" y="581.6" font-size="14" fill="#303338" text-anchor="middle">26</text>
<text x="710.1" y="581.6" font-size="14" fill="#303338" text-anchor="middle">29</text>
<text x="938.2" y="581.6" font-size="14" fill="#303338" text-anchor="middle">5</text>
<text x="1069.5" y="581.6" font-size="14" fill="#303338" text-anchor="middle">9</text>
<text x="1165.9" y="581.6" font-size="14" fill="#303338" text-anchor="middle">12</text>
<text x="842.6" y="581.6" font-size="14" fill="#303338" font-weight="bold" text-anchor="middle">Nov</text>
<text x="10.5" y="23.7" font-size="14" fill="#303338" textLength="265.0" lengthAdjust="spacingAndGlyphs">Gold US Dollars per Ounce Spot Prices, 4h</text>
<text x="284.3" y="23.7" font-size="14" fill="#303338">O</text>
<text x="294" y="23.7" font-size="14" fill="#089981" textLength="49" lengthAdjust="spacingAndGlyphs">4202.37</text>
<text x="352.9" y="23.7" font-size="14" fill="#303338">H</text>
<text x="362.5" y="23.7" font-size="14" fill="#089981" textLength="48" lengthAdjust="spacingAndGlyphs">4210.99</text>
<text x="420.0" y="23.7" font-size="14" fill="#303338">L</text>
<text x="428" y="23.7" font-size="14" fill="#089981" textLength="48.5" lengthAdjust="spacingAndGlyphs">4202.37</text>
<text x="485.7" y="23.7" font-size="14" fill="#303338">C</text>
<text x="494.5" y="23.7" font-size="14" fill="#089981" textLength="47.5" lengthAdjust="spacingAndGlyphs">4207.21</text>
<text x="552.9" y="23.7" font-size="14" fill="#089981" textLength="91.4" lengthAdjust="spacingAndGlyphs">+4.64 (+0.11%)</text>
<text x="10.5" y="43.6" font-size="14" fill="#303338" textLength="106.0" lengthAdjust="spacingAndGlyphs">MA (20, close, 0)</text>
<text x="10.5" y="63.5" font-size="14" fill="#303338" textLength="113.5" lengthAdjust="spacingAndGlyphs">MA (100, close, 0)</text>
<text x="10.5" y="83.0" font-size="14" fill="#303338" textLength="113.5" lengthAdjust="spacingAndGlyphs">MA (200, close, 0)</text>
<text x="10.2" y="335.1" font-size="14" fill="#303338" textLength="100.5" lengthAdjust="spacingAndGlyphs">Mom (14, close)</text>
<text x="120.2" y="335.1" font-size="14" fill="#2196F3" textLength="34.0" lengthAdjust="spacingAndGlyphs">64.36</text>
<text x="10.9" y="444.3" font-size="14" fill="#303338" textLength="47.0" lengthAdjust="spacingAndGlyphs">RSI (14)</text>
<text x="68.2" y="444.3" font-size="14" fill="#7E57C2" textLength="34.0" lengthAdjust="spacingAndGlyphs">66.60</text>
</svg></body></html>
